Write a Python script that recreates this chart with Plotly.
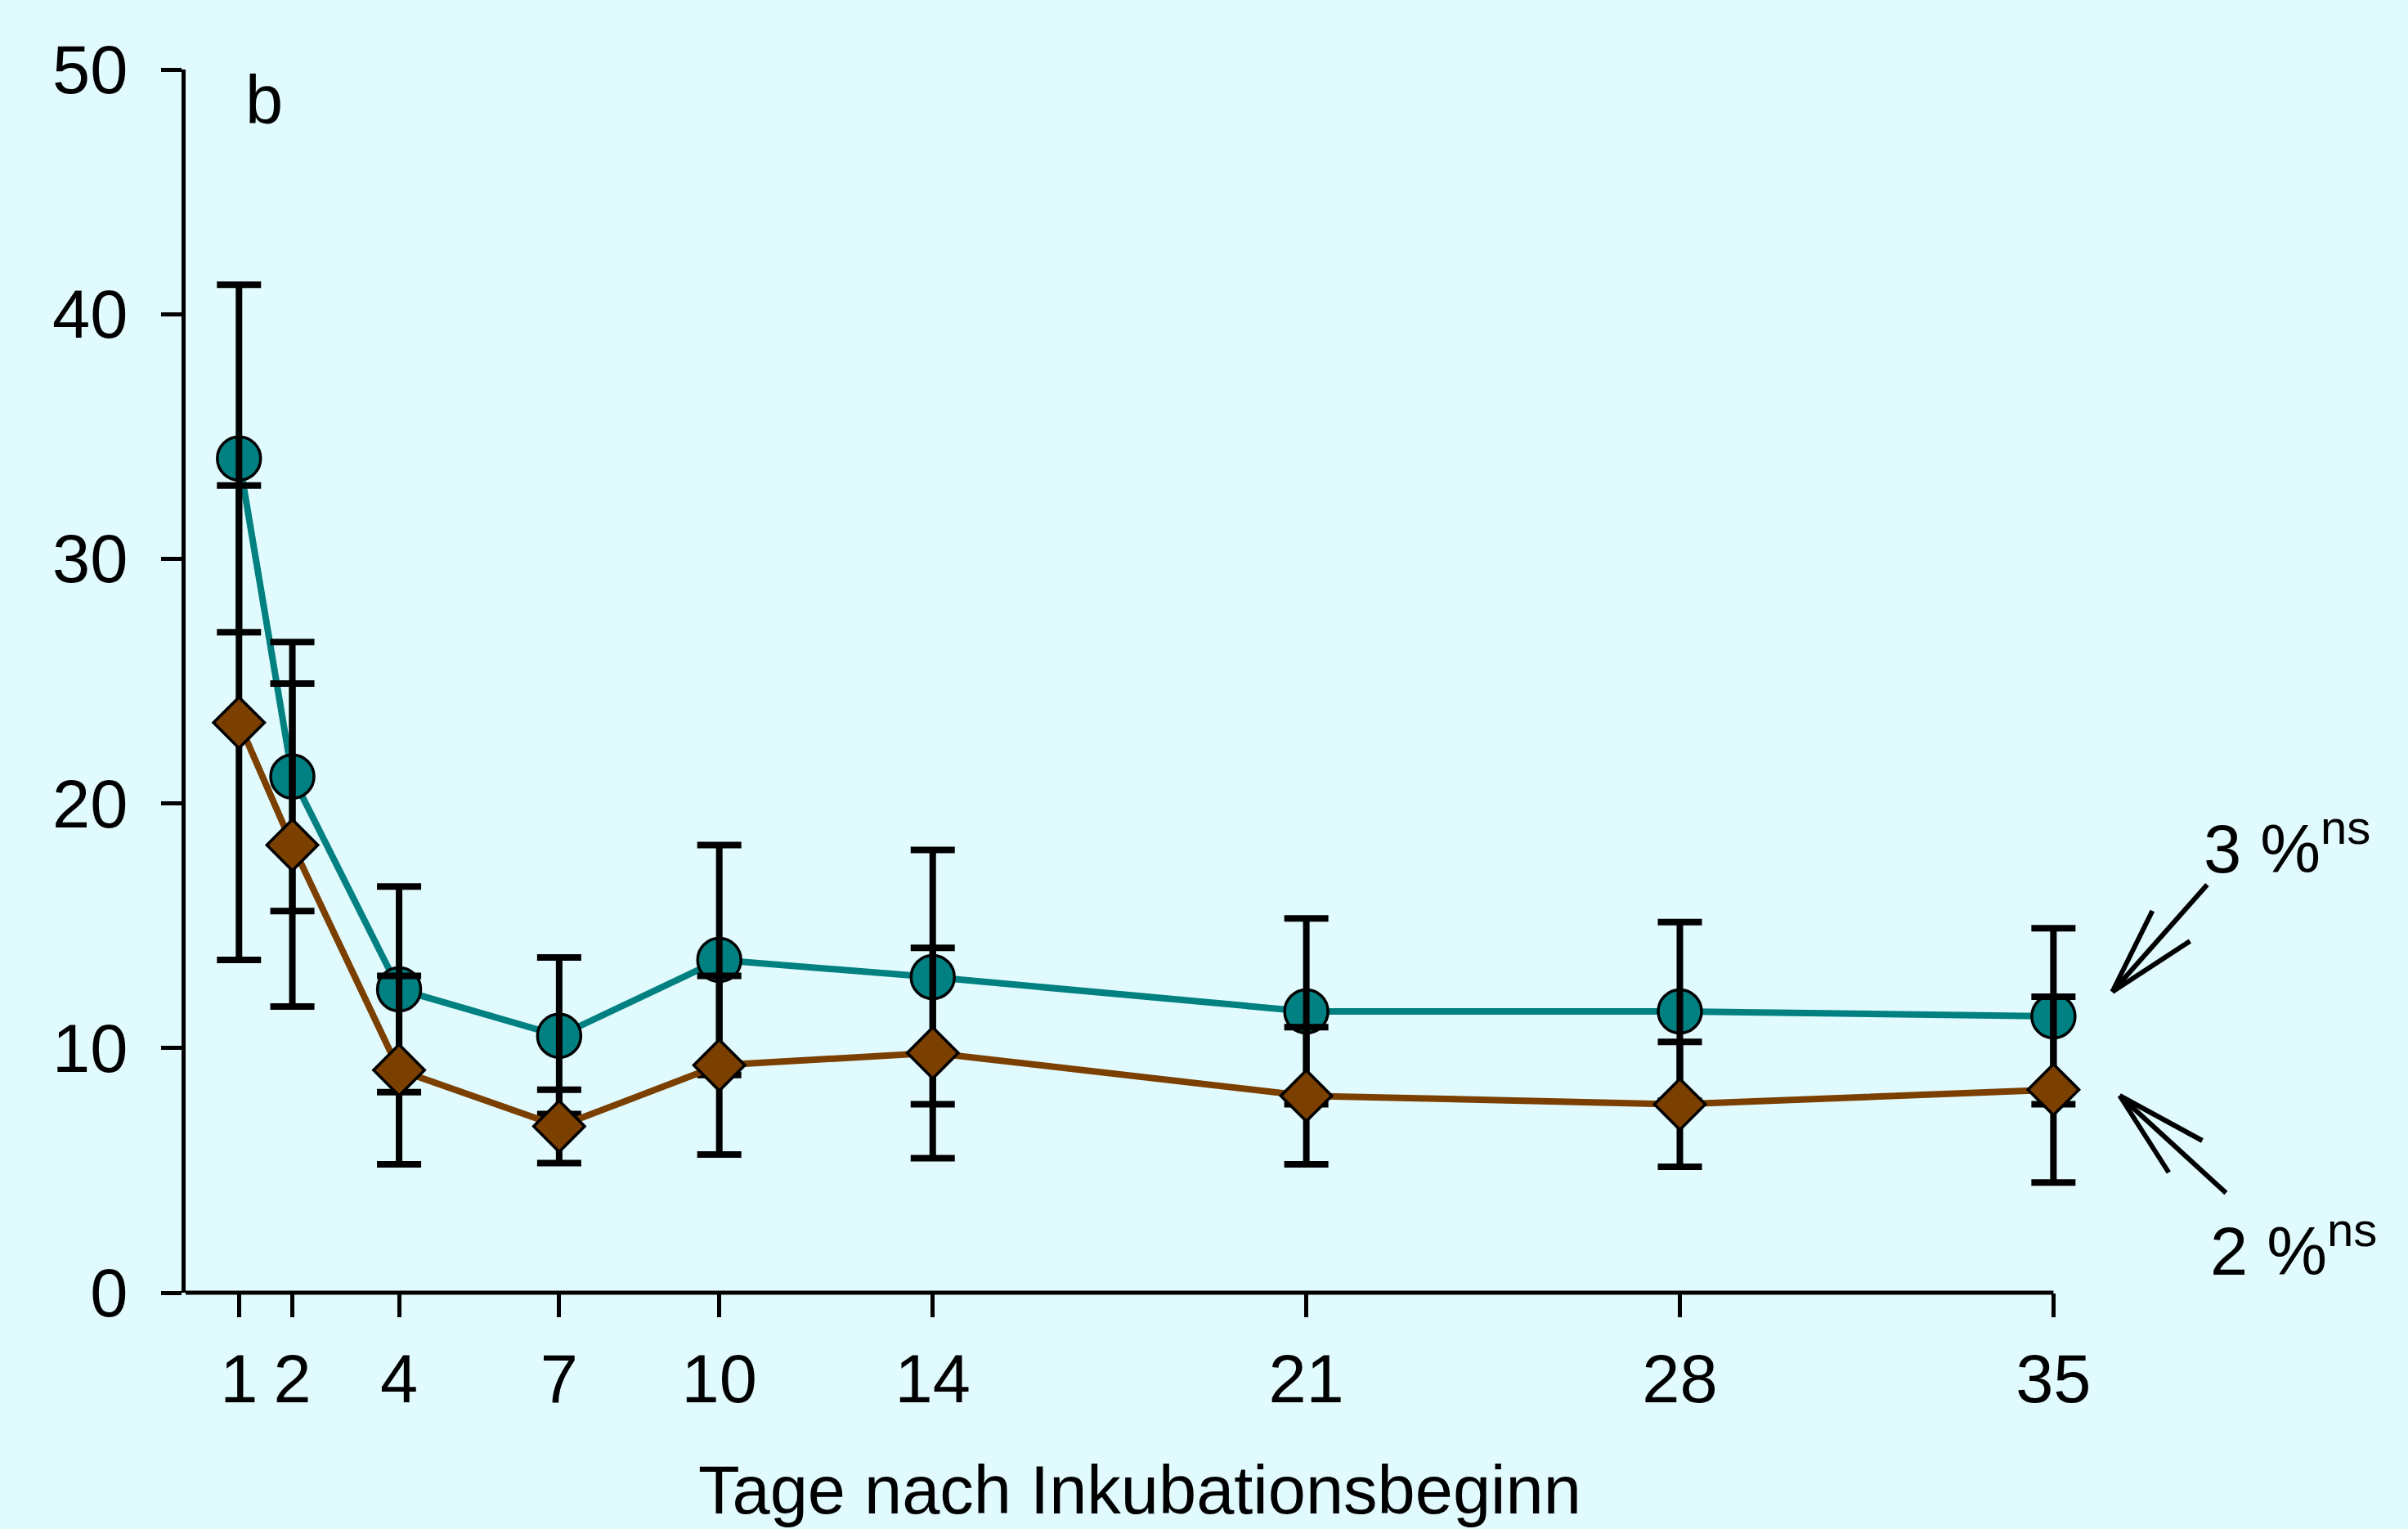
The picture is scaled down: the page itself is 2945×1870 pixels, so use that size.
import plotly.graph_objects as go

# ---- data ----
days = [1, 2, 4, 7, 10, 14, 21, 28, 35]
tick_labels = ["1", "2", "4", "7", "10", "14", "21", "28", "35"]
mean_3pct = [34.1, 21.1, 12.4, 10.5, 13.6, 12.9, 11.5, 11.5, 11.3]
err_3pct = [7.1, 5.5, 4.2, 3.2, 4.7, 5.2, 3.8, 3.65, 3.6]
mean_2pct = [23.3, 18.3, 9.1, 6.8, 9.3, 9.8, 8.05, 7.7, 8.3]
err_2pct = [9.7, 6.6, 3.85, 1.5, 3.65, 4.3, 2.8, 2.55, 3.8]
y_ticks = [0, 10, 20, 30, 40, 50]
x_axis_end = 35
x_range = [0, 35.5]
y_range = [0, 50]

TEAL = "#008080"
BROWN = "#7B3F00"
BG = "#E1FAFD"
FONT = "Liberation Sans, Arial, sans-serif"
FS = 83

W, H = 2945, 1870
L, T, B = 227, 85, 289
PH = H - T - B
PW = (2511 - L) * x_range[1] / x_axis_end
R = W - L - PW


def px(xp, yp):
    """pixel position -> paper coordinates (for decorations only)"""
    return (xp - L) / PW, (H - B - yp) / PH


fig = go.Figure()

# teal line + markers
fig.add_trace(go.Scatter(
    x=days, y=mean_3pct, mode="lines+markers",
    line=dict(color=TEAL, width=8),
    marker=dict(symbol="circle", size=53, color=TEAL,
                line=dict(color="black", width=3.5)),
    cliponaxis=False, showlegend=False))

# teal error bars drawn above teal markers
fig.add_trace(go.Scatter(
    x=days, y=mean_3pct, mode="markers",
    marker=dict(size=1, opacity=0),
    error_y=dict(type="data", array=err_3pct, visible=True,
                 color="black", thickness=8, width=27),
    cliponaxis=False, showlegend=False, hoverinfo="skip"))

# brown line + markers with error bars
fig.add_trace(go.Scatter(
    x=days, y=mean_2pct, mode="lines+markers",
    line=dict(color=BROWN, width=8),
    marker=dict(symbol="diamond", size=48, color=BROWN,
                line=dict(color="black", width=3.5)),
    error_y=dict(type="data", array=err_2pct, visible=True,
                 color="black", thickness=8, width=27),
    cliponaxis=False, showlegend=False))

fig.update_layout(
    width=W, height=H,
    paper_bgcolor=BG, plot_bgcolor=BG,
    margin=dict(l=L, r=R, t=T, b=B, autoexpand=False),
    font=dict(family=FONT, size=FS, color="black"),
    xaxis=dict(range=x_range, tickmode="array", tickvals=days, ticktext=tick_labels,
               showline=False,
               ticks="outside", ticklen=29, tickwidth=5, tickcolor="black",
               showgrid=False, zeroline=False, ticklabelstandoff=4,
               tickfont=dict(size=FS)),
    yaxis=dict(range=y_range, tickvals=y_ticks,
               showline=True, linecolor="black", linewidth=5,
               ticks="outside", ticklen=25, tickwidth=5, tickcolor="black",
               showgrid=False, zeroline=False, ticklabelstandoff=24,
               tickfont=dict(size=FS)),
)

annotations = []
bx, by = px(298, 123)
annotations.append(dict(text="b", x=bx, y=by, xref="paper", yref="paper",
                        xanchor="left", yanchor="middle", showarrow=False,
                        font=dict(size=FS)))
tx, ty = px(1394, 1822)
annotations.append(dict(text="Tage nach Inkubationsbeginn", x=tx, y=ty,
                        xref="paper", yref="paper", xanchor="center",
                        yanchor="middle", showarrow=False, font=dict(size=FS)))
ax3, ay3 = px(2693, 1032)
annotations.append(dict(text="3 %<sup>ns</sup>", x=ax3, y=ay3, xref="paper",
                        yref="paper", xanchor="left", yanchor="middle",
                        showarrow=False, font=dict(size=FS)))
ax2, ay2 = px(2701, 1524)
annotations.append(dict(text="2 %<sup>ns</sup>", x=ax2, y=ay2, xref="paper",
                        yref="paper", xanchor="left", yanchor="middle",
                        showarrow=False, font=dict(size=FS)))
fig.update_layout(annotations=annotations)

shapes = []
# x axis line ending at the last tick (day 35)
shapes.append(dict(type="line", xref="paper", yref="paper",
                   x0=0, x1=x_axis_end / x_range[1], y0=0, y1=0,
                   line=dict(color="black", width=5)))

# open arrows pointing at the two series (pixel positions of decoration)
arrows = [
    ((2583, 1213), [(2699, 1082), (2632, 1114), (2678, 1151)]),
    ((2592, 1340), [(2722, 1459), (2652, 1434), (2693, 1395)]),
]
for tip, ends in arrows:
    x0, y0 = px(*tip)
    for e in ends:
        x1, y1 = px(*e)
        shapes.append(dict(type="line", xref="paper", yref="paper",
                           x0=x0, y0=y0, x1=x1, y1=y1,
                           line=dict(color="black", width=6)))
fig.update_layout(shapes=shapes)

fig.write_html(
    "out.html",
    config={"displayModeBar": False},
    post_script="document.body.style.margin='0';document.body.style.background='%s';" % BG,
)
